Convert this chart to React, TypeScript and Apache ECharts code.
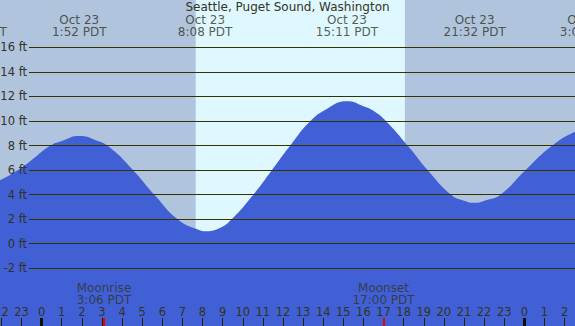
import React, { useEffect, useRef } from "react";
import * as echarts from "echarts";

const TITLE = "Seattle, Puget Sound, Washington";

// tide curve (hours from midnight Oct 23, feet)
const tideHours = [-3.28, -2.07, -1.09, -0.6, 0.4, 1.0, 1.87, 2.7, 3.38, 4.54, 5.62, 6.78, 7.86, 8.13, 8.8, 9.44, 10.51, 11.43, 12.34, 13.33, 14.2, 15.18, 16.0, 16.57, 17.15, 18.22, 19.22, 20.38, 21.0, 21.53, 22.1, 22.79, 24.03, 25.36, 26.52, 27.12];
const tideFeet = [4.4, 5.18, 6.08, 6.67, 7.95, 8.37, 8.78, 8.43, 7.85, 6.0, 3.96, 1.97, 1.1, 1.02, 1.24, 1.97, 3.96, 5.94, 7.95, 9.94, 11.0, 11.6, 11.2, 10.75, 9.94, 7.95, 5.94, 3.96, 3.5, 3.33, 3.55, 3.96, 5.94, 7.95, 9.12, 9.35];

// high / low tide labels
const extremeHours = [-3.28, 1.87, 8.13, 15.18, 21.53, 27.12];
const extremeLabels = ["Oct 22\n20:43 PDT", "Oct 23\n1:52 PDT", "Oct 23\n8:08 PDT", "Oct 23\n15:11 PDT", "Oct 23\n21:32 PDT", "Oct 24\n3:07 PDT"];

// moon events
const moonHours = [3.1, 17.0];
const moonLabels = ["Moonrise\n3:06 PDT", "Moonset\n17:00 PDT"];

// sun
const sunrise = 7.66;
const sunset = 18.06;

// axis ticks
const hourTicks = [-2, -1, 0, 1, 2, 3, 4, 5, 6, 7, 8, 9, 10, 11, 12, 13, 14, 15, 16, 17, 18, 19, 20, 21, 22, 23, 24, 25, 26];
const midnights = [0, 24];
const feetTicks = [-2, 0, 2, 4, 6, 8, 10, 12, 14, 16];

const X_MIN = -2.07;
const X_MAX = 26.52;
const Y_MIN = -6.7;
const Y_MAX = 19.85;

const FONT = '"DejaVu Sans", Verdana, sans-serif';
const TEXT = "#333322";
const LINE = "#333300";
const NIGHT = "#b0c4de";
const DAY = "#dff8ff";
const WATER = "#4160d6";

export default function App() {
  const ref = useRef<HTMLDivElement>(null);
  useEffect(() => {
    if (!ref.current) return;
    const chart = echarts.init(ref.current, undefined, { renderer: "svg" });
    const baseX = {
      gridIndex: 0,
      type: "value" as const,
      min: X_MIN,
      max: X_MAX,
      position: "bottom" as const,
      z: 6,
      axisLine: { show: false, onZero: false },
      splitLine: { show: false },
    };
    chart.setOption({
      animation: false,
      backgroundColor: NIGHT,
      textStyle: { fontFamily: FONT },
      title: {
        text: TITLE,
        left: "center",
        top: 1,
        padding: 0,
        textStyle: { fontSize: 12, fontWeight: "normal", color: TEXT, fontFamily: FONT },
      },
      grid: [
        { left: 0, right: 0, top: 0, bottom: 0, containLabel: false, outerBoundsMode: "none" },
        { left: 29, right: 0, top: 47.3, bottom: 326 - 268.3, containLabel: false, outerBoundsMode: "none" },
      ],
      xAxis: [
        {
          ...baseX,
          axisTick: {
            show: true,
            inside: true,
            length: 8,
            customValues: hourTicks.filter((h) => midnights.indexOf(h) < 0),
            lineStyle: { color: "#222200", width: 1 },
          },
          axisLabel: {
            show: true,
            inside: true,
            margin: 8,
            hideOverlap: false,
            showMinLabel: true,
            showMaxLabel: true,
            customValues: hourTicks,
            formatter: (v: number) => String(((Math.round(v) % 24) + 24) % 24),
            fontSize: 11.5,
            color: TEXT,
            fontFamily: FONT,
          },
        },
        {
          ...baseX,
          axisTick: {
            show: true,
            inside: true,
            length: 8,
            customValues: midnights,
            lineStyle: { color: "#111100", width: 3 },
          },
          axisLabel: { show: false },
        },
        {
          ...baseX,
          z: 7,
          axisTick: {
            show: true,
            inside: true,
            length: 8,
            customValues: moonHours,
            lineStyle: { color: "#ee0000", width: 2 },
          },
          axisLabel: { show: false },
        },
        { gridIndex: 1, type: "value", min: 0, max: 1, show: false },
      ],
      yAxis: [
        { gridIndex: 0, type: "value", min: Y_MIN, max: Y_MAX, show: false },
        {
          gridIndex: 1,
          type: "value",
          min: feetTicks[0],
          max: feetTicks[feetTicks.length - 1],
          interval: 2,
          z: 10,
          axisLine: { show: false },
          axisTick: { show: false },
          splitLine: { show: true, lineStyle: { color: LINE, width: 1 } },
          axisLabel: {
            formatter: "{value} ft",
            margin: 2,
            fontSize: 11.5,
            color: TEXT,
            fontFamily: FONT,
          },
        },
      ],
      series: [
        {
          type: "line",
          z: 2,
          xAxisIndex: 0,
          yAxisIndex: 0,
          data: tideHours.map((h, i) => [h, tideFeet[i]]),
          smooth: 0.5,
          symbol: "none",
          lineStyle: { width: 0, color: WATER },
          areaStyle: { color: WATER, opacity: 1, origin: "start" },
          silent: true,
          markArea: {
            silent: true,
            z: 1,
            itemStyle: { color: DAY, opacity: 1, borderWidth: 0 },
            data: [[{ xAxis: sunrise }, { xAxis: sunset }]],
          },
        },
        {
          type: "scatter",
          z: 8,
          xAxisIndex: 0,
          yAxisIndex: 0,
          symbolSize: 0,
          clip: false,
          silent: true,
          data: extremeHours.map((h, i) => ({ name: extremeLabels[i], value: [h, Y_MAX] })),
          label: {
            show: true,
            position: "bottom",
            distance: 14,
            formatter: (p: any) => p.name,
            fontSize: 12,
            lineHeight: 12,
            color: TEXT,
            fontFamily: FONT,
          },
        },
        {
          type: "scatter",
          z: 8,
          xAxisIndex: 0,
          yAxisIndex: 0,
          symbolSize: 0,
          clip: false,
          silent: true,
          data: moonHours.map((h, i) => ({ name: moonLabels[i], value: [h, Y_MIN] })),
          label: {
            show: true,
            position: "top",
            distance: 20,
            formatter: (p: any) => p.name,
            fontSize: 12,
            lineHeight: 12,
            color: TEXT,
            fontFamily: FONT,
          },
        },
      ],
    });
    return () => chart.dispose();
  }, []);
  return (
    <div
      ref={ref}
      style={{ position: "fixed", left: 0, top: 0, width: 575, height: 326 }}
    />
  );
}
